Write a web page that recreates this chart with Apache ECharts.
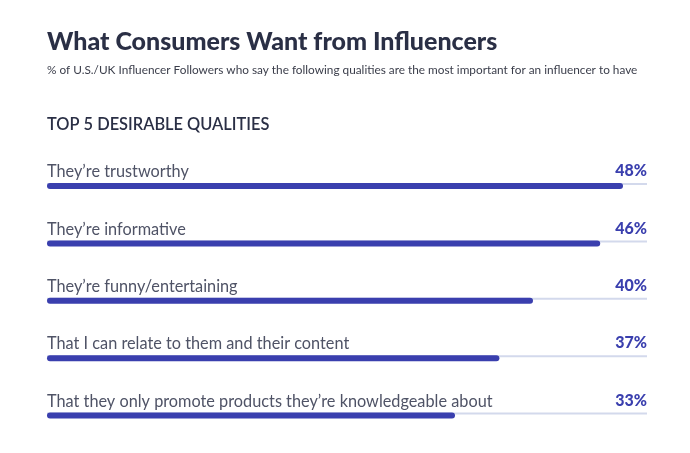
<!DOCTYPE html>
<html><head><meta charset="utf-8">
<script src="https://cdn.jsdelivr.net/npm/echarts@6/dist/echarts.min.js"></script>
<style>html,body{margin:0;padding:0;background:#fff}#c{width:690px;height:453px}</style>
</head><body><div id="c"></div>
<script>
const categories = [
  "They\u2019re trustworthy",
  "They\u2019re informative",
  "They\u2019re funny/entertaining",
  "That I can relate to them and their content",
  "That they only promote products they\u2019re knowledgeable about"
];
const values = [48, 46.1, 40.5, 37.7, 34];
const trackMax = 50;
const valueLabels = ["48%", "46%", "40%", "37%", "33%"];

const chart = echarts.init(document.getElementById('c'));
chart.setOption({
  backgroundColor: '#fff',
  animation: false,
  title: [
    { text: 'What Consumers Want from Influencers', left: 47, top: 29, padding: 0,
      textStyle: { fontFamily: 'Lato', fontWeight: 900, fontSize: 25, color: '#2a2f45' } },
    { text: '% of U.S./UK Influencer Followers who say the following qualities are the most important for an influencer to have',
      left: 47, top: 64, padding: 0, textStyle: { fontFamily: 'Lato', fontWeight: 'normal', fontSize: 11.8, color: '#3a3d4a' } },
    { text: 'TOP 5 DESIRABLE QUALITIES', left: 47, top: 117, padding: 0,
      textStyle: { fontFamily: 'Lato', fontWeight: 600, fontSize: 16.4, color: '#2a2f45' } }
  ],
  grid: { left: 47, right: 43, top: 157.3, bottom: 8.7 },
  xAxis: { type: 'value', min: 0, max: trackMax, show: false },
  yAxis: {
    type: 'category', data: categories, inverse: true,
    axisLine: { show: false }, axisTick: { show: false },
    axisLabel: {
      inside: true, margin: 0, align: 'left', verticalAlign: 'bottom',
      padding: [0, 0, 6, 0],
      fontFamily: 'Lato', fontSize: 16.3, color: '#4f5366'
    }
  },
  series: [
    {
      type: 'bar', data: categories.map(() => trackMax), barWidth: 2, barGap: '-100%',
      itemStyle: { color: '#d3d9ec' }, silent: true, z: 1,
      label: {
        show: true, position: 'insideRight', distance: 0, offset: [0, -13],
        formatter: p => valueLabels[p.dataIndex],
        fontFamily: 'Lato', fontWeight: 900, fontSize: 16, color: '#3a3fae'
      }
    },
    {
      type: 'bar', data: values, barWidth: 6, z: 2,
      itemStyle: { color: '#3a3fae', borderRadius: 3 }
    }
  ]
});
</script></body></html>
